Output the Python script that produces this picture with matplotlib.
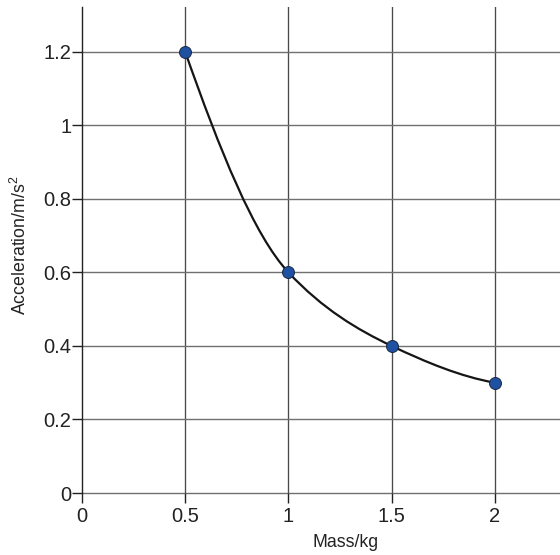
import numpy as np
import matplotlib
matplotlib.use("Agg")
import matplotlib.pyplot as plt
from matplotlib.path import Path
from matplotlib.patches import PathPatch

plt.rcParams["font.family"] = ["Liberation Sans", "DejaVu Sans"]
plt.rcParams["mathtext.fontset"] = "custom"
plt.rcParams["mathtext.rm"] = "Liberation Sans"
plt.rcParams["mathtext.it"] = "Liberation Sans"

# data
mass = [0.5, 1.0, 1.5, 2.0]
accel = [1.2, 0.6, 0.4, 0.3]
x_ticks = [0, 0.5, 1, 1.5, 2]
x_labels = ["0", "0.5", "1", "1.5", "2"]
y_ticks = [0, 0.2, 0.4, 0.6, 0.8, 1.0, 1.2]
y_labels = ["0", "0.2", "0.4", "0.6", "0.8", "1", "1.2"]


def smooth_path(xs, ys):
    """Bezier path through the points, monotone (pchip-style) slopes."""
    xs = np.asarray(xs, float)
    ys = np.asarray(ys, float)
    h = np.diff(xs)
    d = np.diff(ys) / h
    n = len(xs)
    m = np.zeros(n)
    for i in range(1, n - 1):
        w1 = 2 * h[i] + h[i - 1]
        w2 = h[i] + 2 * h[i - 1]
        m[i] = (w1 + w2) / (w1 / d[i - 1] + w2 / d[i])
    m[0] = ((2 * h[0] + h[1]) * d[0] - h[0] * d[1]) / (h[0] + h[1])
    m[-1] = ((2 * h[-1] + h[-2]) * d[-1] - h[-1] * d[-2]) / (h[-1] + h[-2])
    verts = [(xs[0], ys[0])]
    codes = [Path.MOVETO]
    for i in range(n - 1):
        verts += [(xs[i] + h[i] / 3, ys[i] + m[i] * h[i] / 3),
                  (xs[i + 1] - h[i] / 3, ys[i + 1] - m[i + 1] * h[i] / 3),
                  (xs[i + 1], ys[i + 1])]
        codes += [Path.CURVE4] * 3
    return Path(verts, codes)


fig = plt.figure(figsize=(5.6, 5.55), dpi=100)
ax = fig.add_axes([0.1464, 0.1117, 0.8536, 0.8756])

ax.set_xlim(0, 2.315)
ax.set_ylim(0, 1.322)

for x in x_ticks[1:]:
    ax.axvline(x, color="#4a4a4a", lw=0.95, zorder=1)
for y in y_ticks:
    ax.axhline(y, color="#707070", lw=1.0, zorder=1, clip_on=False)

ax.add_patch(PathPatch(smooth_path(mass, accel), facecolor="none",
                       edgecolor="#151515", lw=1.6, zorder=2))
ax.plot(mass, accel, "o", color="#1f51a3", markeredgecolor="#1a2740",
        markersize=8.6, markeredgewidth=0.7, zorder=3)

for s in ["top", "right", "bottom"]:
    ax.spines[s].set_visible(False)
ax.spines["left"].set_color("#222222")
ax.spines["left"].set_linewidth(1.0)
ax.spines["left"].set_zorder(1.5)

ax.set_xticks(x_ticks)
ax.set_xticklabels(x_labels)
ax.set_yticks(y_ticks)
ax.set_yticklabels(y_labels)
ax.tick_params(axis="both", labelsize=14.5, colors="#222222", length=7.2,
               width=1.0, direction="out")
ax.tick_params(axis="y", pad=0.5)
ax.tick_params(axis="x", pad=3)

ax.set_xlabel("Mass/kg", fontsize=12.8, color="#222222")
ax.xaxis.set_label_coords(0.551, -0.085)
ax.set_ylabel("Acceleration/m/s$^2$", fontsize=12.8, color="#222222")
ax.yaxis.set_label_coords(-0.108, 0.51)

fig.savefig("out.png", dpi=100)
